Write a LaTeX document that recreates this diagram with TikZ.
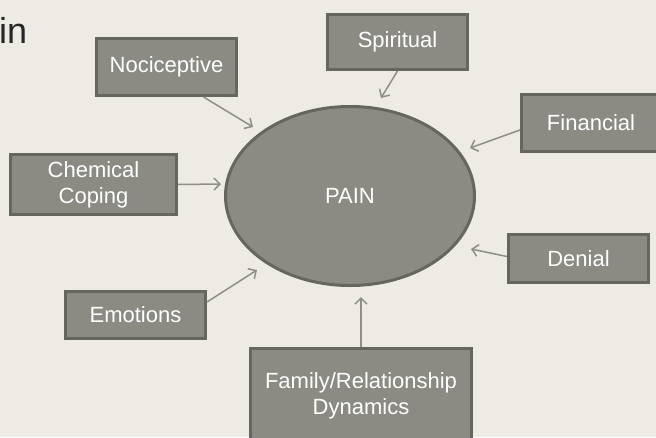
\documentclass[tikz,border=0pt]{standalone}
\usepackage{fontspec}
\setmainfont{Liberation Sans}
\usetikzlibrary{shapes.geometric,arrows.meta,calc}
\definecolor{bgc}{HTML}{EEEBE4}
\definecolor{boxfill}{HTML}{8B8B84}
\definecolor{boxline}{HTML}{65665F}
\definecolor{arrc}{HTML}{8E8E87}
\definecolor{titlec}{HTML}{262626}
\tikzset{
  factor/.style={rectangle, draw=boxline, fill=boxfill, line width=3pt, text=white,
    align=center, inner sep=0pt, font=\fontsize{22}{26}\selectfont},
  painnode/.style={ellipse, draw=boxline, fill=boxfill, line width=3pt, text=white,
    inner sep=0pt, font=\fontsize{22}{26}\selectfont},
  arr/.style={draw=arrc, line width=1.5pt, -{Straight Barb[length=6pt,width=12pt,line width=1.5pt]}}
}
\begin{document}
\begin{tikzpicture}[x=1pt,y=-1pt]
\fill[bgc] (0,0) rectangle (656,437);
\useasboundingbox (0,0) rectangle (656,437);
\node[anchor=base west, inner sep=0pt, text=titlec, font=\fontsize{36}{40}\selectfont] (title) at (-1,43) {in};

\node[painnode, minimum width=249pt, minimum height=179pt] (pain) at (350,196) {PAIN};

\node[factor, minimum width=140pt, minimum height=57pt] (noci) at (166.5,67) {Nociceptive};
\node[factor, minimum width=140pt, minimum height=55pt] (spir) at (397.5,42) {Spiritual};
\node[factor, minimum width=139pt, minimum height=57pt] (fin) at (591,123) {Financial};
\node[factor, minimum width=166pt, minimum height=60pt] (chem) at (93.5,184.5) {Chemical\\Coping};
\node[factor, minimum width=140pt, minimum height=48pt] (den) at (578.5,258.5) {Denial};
\node[factor, minimum width=140pt, minimum height=47pt] (emo) at (135.5,315) {Emotions};
\node[factor, minimum width=221pt, minimum height=95pt] (fam) at (361,396) {Family/Relationship\\Dynamics};

\coordinate (t1) at (253,127);
\coordinate (t2) at (381,98);
\coordinate (t3) at (470,148);
\coordinate (t4) at (221,184);
\coordinate (t5) at (471,249);
\coordinate (t6) at (257,270);
\coordinate (t7) at (361,297);

\draw[arr] ($(noci.south)+(37,0)$) -- (t1);
\draw[arr] (spir.south) -- (t2);
\draw[arr] ($(fin.west)+(0,7)$) -- (t3);
\draw[arr] (chem.east) -- (t4);
\draw[arr] ($(den.west)+(0,-2)$) -- (t5);
\draw[arr] ($(emo.north east)+(0,12)$) -- (t6);
\draw[arr] (fam.north) -- (t7);
\end{tikzpicture}
\end{document}
